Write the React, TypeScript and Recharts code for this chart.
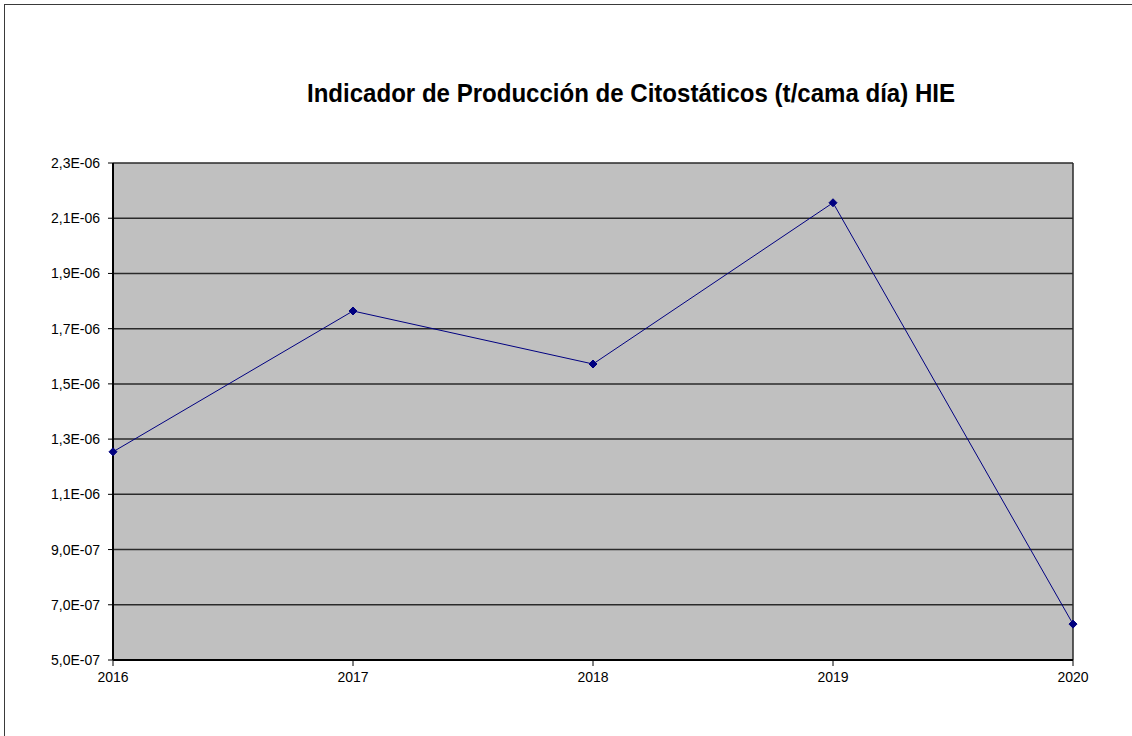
import { LineChart, Line, XAxis, YAxis, CartesianGrid } from 'recharts';

const years = ['2016', '2017', '2018', '2019', '2020'];
const indicador = [1.254e-6, 1.764e-6, 1.572e-6, 2.156e-6, 6.3e-7];
const yTicks = [5e-7, 7e-7, 9e-7, 1.1e-6, 1.3e-6, 1.5e-6, 1.7e-6, 1.9e-6, 2.1e-6, 2.3e-6];

const data = years.map((year, i) => ({ year, value: indicador[i] }));

// "2,3E-06" style, like the spreadsheet
const sci = (v: number) => {
    const [m, e] = v.toExponential(1).split('e');
    const exp = parseInt(e, 10);
    const sign = exp < 0 ? '-' : '+';
    return `${m.replace('.', ',')}E${sign}${String(Math.abs(exp)).padStart(2, '0')}`;
};

const Diamond = (props: any) => {
    const { cx, cy } = props;
    if (cx == null || cy == null) return null;
    const r = 4;
    return (
        <path
            d={`M${cx},${cy - r} L${cx + r},${cy} L${cx},${cy + r} L${cx - r},${cy} Z`}
            fill="#000080"
            stroke="#000080"
        />
    );
};

const font = "'Liberation Sans', Arial, sans-serif";

export default function App() {
    return (
        <div style={{ position: 'fixed', left: 0, top: 0, width: 1132, height: 736, background: '#fff', overflow: 'hidden' }}>
            {/* outer chart border */}
            <div style={{ position: 'absolute', left: 4, top: 4, width: 1160, height: 760, border: '1.5px solid #3a3a3a' }} />

            <svg style={{ position: 'absolute', left: 0, top: 0 }} width={1132} height={130}>
                <text
                    x={307}
                    y={102}
                    textLength={648}
                    lengthAdjust="spacingAndGlyphs"
                    fontFamily={font}
                    fontWeight="bold"
                    fontSize={25}
                    fill="#000"
                >
                    Indicador de Producción de Citostáticos (t/cama día) HIE
                </text>
            </svg>

            <div style={{ position: 'absolute', left: 0, top: 0 }}>
                <LineChart width={1132} height={736} data={data} margin={{ top: 163, right: 59, bottom: 46, left: 0 }}>
                    <CartesianGrid
                        fill="#c0c0c0"
                        stroke="#2a2a2a"
                        strokeWidth={1.5}
                        verticalCoordinatesGenerator={({ offset }: any) => [offset.left + offset.width]}
                    />
                    <XAxis
                        dataKey="year"
                        height={30}
                        stroke="#000"
                        strokeWidth={2}
                        tickLine={{ stroke: '#000', strokeWidth: 1 }}
                        tickSize={6}
                        tickMargin={6}
                        tick={{ fill: '#000', fontSize: 14, fontFamily: font }}
                        interval={0}
                    />
                    <YAxis
                        width={113}
                        domain={[5e-7, 2.3e-6]}
                        ticks={yTicks}
                        tickFormatter={sci}
                        stroke="#000"
                        strokeWidth={2}
                        tickLine={{ stroke: '#000', strokeWidth: 1 }}
                        tickSize={5}
                        tickMargin={8}
                        allowDataOverflow
                        tick={{ fill: '#000', fontSize: 14, fontFamily: font }}
                        interval={0}
                    />
                    <Line
                        type="linear"
                        dataKey="value"
                        stroke="#000080"
                        strokeWidth={1}
                        dot={<Diamond />}
                        activeDot={false}
                        isAnimationActive={false}
                    />
                </LineChart>
            </div>
        </div>
    );
}
